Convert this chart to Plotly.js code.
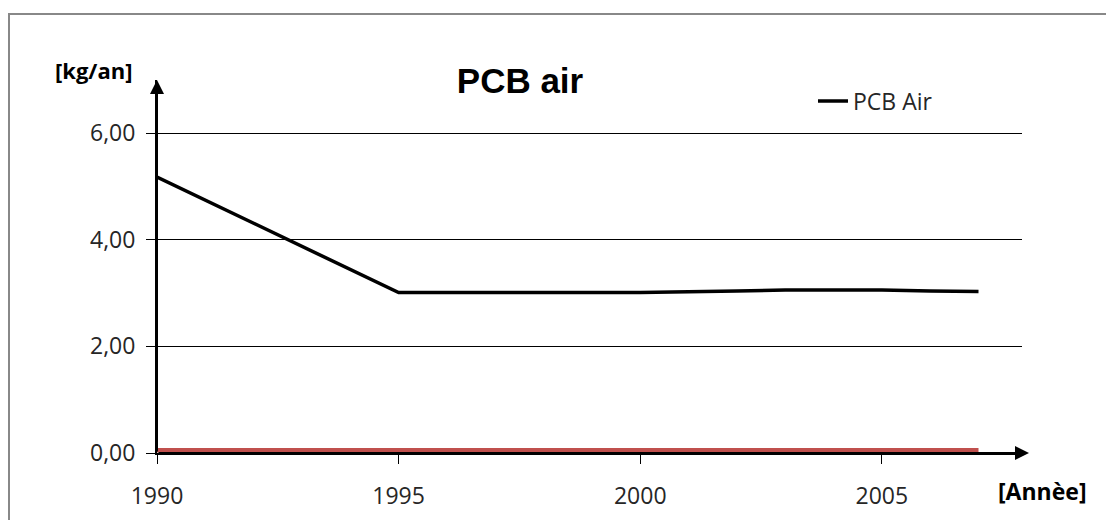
<!DOCTYPE html>
<html>
<head>
<meta charset="utf-8">
<script src="https://cdn.plot.ly/plotly-3.0.1.min.js"></script>
<style>html,body{margin:0;padding:0;background:#fff;}#chart{width:1106px;height:520px;}</style>
</head>
<body>
<div id="chart"></div>
<script>
// Data
var years = [1990, 1995, 2000, 2001, 2002, 2003, 2004, 2005, 2006, 2007];
var pcbAir = [5.18, 3.01, 3.01, 3.02, 3.04, 3.06, 3.06, 3.06, 3.04, 3.03];
var pcbOther = [0.05, 0.05, 0.05, 0.05, 0.05, 0.05, 0.05, 0.05, 0.05, 0.05];
var xTicks = [1990, 1995, 2000, 2005];
var yTicks = [0, 2, 4, 6];
var yTickText = ['0,00', '2,00', '4,00', '6,00'];

var traces = [
  {x: years, y: pcbOther, type: 'scatter', mode: 'lines', name: 'PCB',
   showlegend: false, line: {color: '#C0504D', width: 4.5}},
  {x: years, y: pcbAir, type: 'scatter', mode: 'lines', name: 'PCB Air',
   line: {color: '#000000', width: 3.5}}
];

var tickFont = {family: 'Open Sans, sans-serif', size: 23, color: '#262626'};

var layout = {
  width: 1106, height: 520,
  margin: {l: 157, r: 84, t: 80, b: 67},
  paper_bgcolor: '#fff', plot_bgcolor: '#fff',
  title: {text: 'PCB air', font: {family: 'Liberation Sans, Arial, sans-serif', size: 35, weight: 'bold', color: '#000'},
          xref: 'container', x: 520/1106, xanchor: 'center', yref: 'container', y: 1 - 81/520, yanchor: 'middle'},
  showlegend: true,
  legend: {x: (813-157)/865, xanchor: 'left', y: (453-101)/373, yanchor: 'middle',
           font: {family: 'Open Sans, sans-serif', size: 23, color: '#262626'}, bgcolor: 'rgba(0,0,0,0)'},
  xaxis: {range: [1990, 2007.9], tickvals: xTicks, ticktext: xTicks.map(String),
          ticks: 'outside', ticklen: 9, tickwidth: 1, tickcolor: '#000', ticklabelstandoff: 12,
          showgrid: false, zeroline: false, showline: true, linecolor: '#000', linewidth: 2,
          tickfont: tickFont, fixedrange: true},
  yaxis: {range: [0, 7], tickvals: yTicks, ticktext: yTickText,
          ticks: 'outside', ticklen: 9, tickwidth: 1, tickcolor: '#000', ticklabelstandoff: 6,
          showgrid: true, gridcolor: '#000', gridwidth: 1,
          zeroline: false, showline: true, linecolor: '#000', linewidth: 2,
          tickfont: tickFont, fixedrange: true},
  shapes: [
    {type: 'rect', xref: 'paper', yref: 'paper', x0: (9-157)/865, x1: 2, y0: -2, y1: (453-14)/373,
     line: {color: '#888', width: 2}, fillcolor: 'rgba(0,0,0,0)', layer: 'below'}
  ],
  annotations: [
    {xref: 'x', yref: 'y', x: 1990, y: 7, ax: 0, ay: 373, axref: 'pixel', ayref: 'pixel',
     showarrow: true, arrowhead: 2, arrowsize: 1.4, arrowwidth: 2, arrowcolor: '#000', text: ''},
    {xref: 'paper', yref: 'y', x: (1029-157)/865, y: 0, ax: -872, ay: 0, axref: 'pixel', ayref: 'pixel',
     showarrow: true, arrowhead: 2, arrowsize: 1.4, arrowwidth: 2, arrowcolor: '#000', text: ''},
    {xref: 'paper', yref: 'paper', x: (93-157)/865, y: (453-70)/373, xanchor: 'center', yanchor: 'middle',
     showarrow: false, text: '[kg/an]', font: {family: 'Open Sans, sans-serif', size: 22, weight: 'bold', color: '#000'}},
    {xref: 'paper', yref: 'paper', x: (1042-157)/865, y: (453-491)/373, xanchor: 'center', yanchor: 'middle',
     showarrow: false, text: '[Annèe]', font: {family: 'Open Sans, sans-serif', size: 23, weight: 'bold', color: '#000'}}
  ]
};

Plotly.newPlot('chart', traces, layout, {displayModeBar: false, staticPlot: true});
</script>
</body>
</html>
